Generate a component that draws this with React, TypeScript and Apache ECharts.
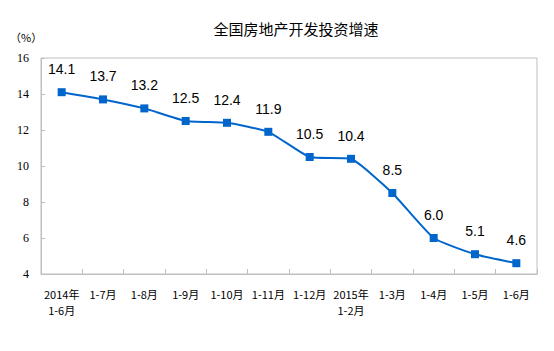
import React, { useEffect, useRef } from "react";
import * as echarts from "echarts";

const categories = [
  "2014年\n1-6月", "1-7月", "1-8月", "1-9月", "1-10月", "1-11月",
  "1-12月", "2015年\n1-2月", "1-3月", "1-4月", "1-5月", "1-6月",
];
const growth = [14.1, 13.7, 13.2, 12.5, 12.4, 11.9, 10.5, 10.4, 8.5, 6.0, 5.1, 4.6];
const title = "全国房地产开发投资增速";
const unitLabel = "（%）";

export default function App() {
  const ref = useRef<HTMLDivElement>(null);
  useEffect(() => {
    document.body.style.margin = "0";
    const chart = echarts.init(ref.current!, null, { renderer: "svg" });
    chart.setOption({
      animation: false,
      backgroundColor: "#ffffff",
      title: {
        text: title,
        left: 291,
        textAlign: "center",
        top: 16,
        textStyle: { fontSize: 15, fontWeight: "normal", color: "#000", fontFamily: "'Noto Sans CJK SC', sans-serif" },
      },
      graphic: [
        {
          type: "text",
          left: 10,
          top: 31,
          style: { text: unitLabel, fontSize: 11, fill: "#000", fontFamily: "'Noto Sans CJK SC', sans-serif" },
        },
      ],
      grid: {
        left: 41, top: 58, width: 496, height: 216,
        show: true, borderColor: "#bfbfbf", borderWidth: 1,
      },
      xAxis: {
        type: "category",
        data: categories,
        boundaryGap: true,
        axisLine: { lineStyle: { color: "#bfbfbf" } },
        axisTick: { show: true, inside: true, length: 5, lineStyle: { color: "#bfbfbf" }, alignWithLabel: false },
        axisLabel: {
          interval: 0, color: "#000", fontSize: 11, margin: 12, lineHeight: 16,
          fontFamily: "'Noto Sans CJK SC', sans-serif",
        },
      },
      yAxis: {
        type: "value",
        min: 4, max: 16, interval: 2,
        axisLine: { show: true, lineStyle: { color: "#bfbfbf" } },
        axisTick: { show: true, inside: true, length: 4, lineStyle: { color: "#bfbfbf" } },
        splitLine: { show: false },
        axisLabel: { color: "#000", fontSize: 12, margin: 12, fontFamily: "'Liberation Serif', serif" },
      },
      series: [
        {
          type: "line",
          data: growth,
          symbol: "rect",
          symbolSize: 8,
          smooth: 0.15,
          lineStyle: { color: "#0066cc", width: 2 },
          itemStyle: { color: "#0066cc" },
          label: {
            show: true, position: "top", distance: 12, color: "#000", fontSize: 14,
            fontFamily: "'Liberation Sans', Arial, sans-serif",
            formatter: (p: any) => p.value.toFixed(1),
          },
        },
      ],
    });
    return () => chart.dispose();
  }, []);
  return <div ref={ref} style={{ width: 554, height: 351 }} />;
}
